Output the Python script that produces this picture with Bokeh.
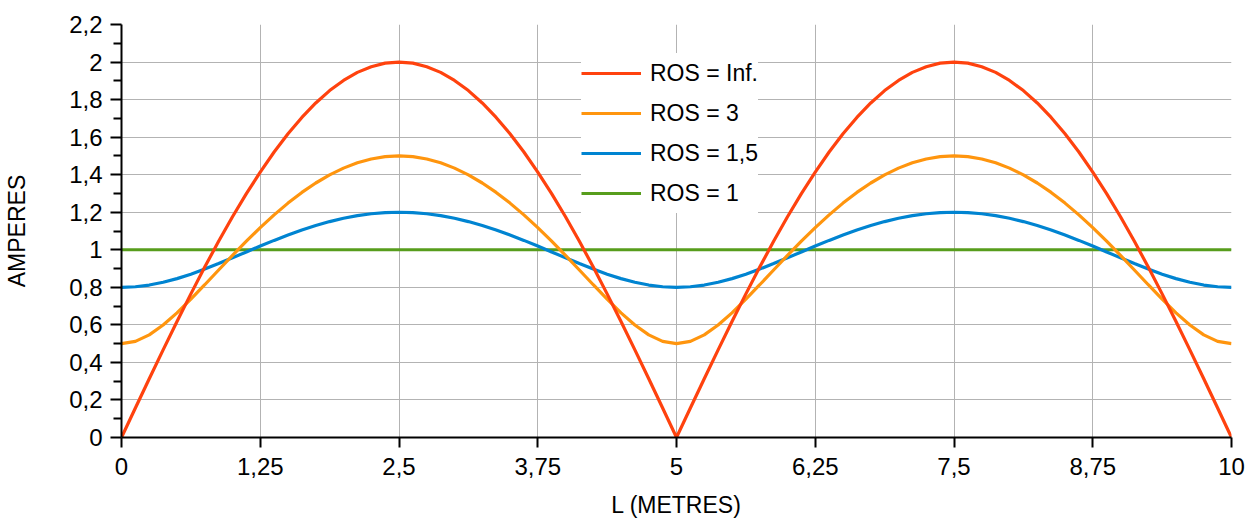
from bokeh.plotting import figure
from bokeh.models import FixedTicker, Legend, LegendItem
from bokeh.embed import file_html
from bokeh.resources import INLINE

# ---- data ----
L_METRES = [round(i * 0.125, 3) for i in range(81)]

ros_inf = [0, 0.157, 0.313, 0.467, 0.618, 0.765, 0.908, 1.045, 1.176, 1.299, 1.414,
           1.521, 1.618, 1.705, 1.782, 1.848, 1.902, 1.945, 1.975, 1.994, 2.0,
           1.994, 1.975, 1.945, 1.902, 1.848, 1.782, 1.705, 1.618, 1.521, 1.414,
           1.299, 1.176, 1.045, 0.908, 0.765, 0.618, 0.467, 0.313, 0.157, 0,
           0.157, 0.313, 0.467, 0.618, 0.765, 0.908, 1.045, 1.176, 1.299, 1.414,
           1.521, 1.618, 1.705, 1.782, 1.848, 1.902, 1.945, 1.975, 1.994, 2.0,
           1.994, 1.975, 1.945, 1.902, 1.848, 1.782, 1.705, 1.618, 1.521, 1.414,
           1.299, 1.176, 1.045, 0.908, 0.765, 0.618, 0.467, 0.313, 0.157, 0]

ros_3 = [0.5, 0.5122, 0.5468, 0.5992, 0.6641, 0.7368, 0.8138, 0.8922, 0.97, 1.0457, 1.118,
         1.1859, 1.2486, 1.3054, 1.3557, 1.399, 1.4349, 1.4632, 1.4836, 1.4959, 1.5,
         1.4959, 1.4836, 1.4632, 1.4349, 1.399, 1.3557, 1.3054, 1.2486, 1.1859, 1.118,
         1.0457, 0.97, 0.8922, 0.8138, 0.7368, 0.6641, 0.5992, 0.5468, 0.5122, 0.5,
         0.5122, 0.5468, 0.5992, 0.6641, 0.7368, 0.8138, 0.8922, 0.97, 1.0457, 1.118,
         1.1859, 1.2486, 1.3054, 1.3557, 1.399, 1.4349, 1.4632, 1.4836, 1.4959, 1.5,
         1.4959, 1.4836, 1.4632, 1.4349, 1.399, 1.3557, 1.3054, 1.2486, 1.1859, 1.118,
         1.0457, 0.97, 0.8922, 0.8138, 0.7368, 0.6641, 0.5992, 0.5468, 0.5122, 0.5]

ros_15 = [0.8, 0.8031, 0.8121, 0.8268, 0.8464, 0.8701, 0.8972, 0.9265, 0.9573, 0.9886, 1.0198,
          1.05, 1.0787, 1.1053, 1.1292, 1.1502, 1.1677, 1.1817, 1.1918, 1.198, 1.2,
          1.198, 1.1918, 1.1817, 1.1677, 1.1502, 1.1292, 1.1053, 1.0787, 1.05, 1.0198,
          0.9886, 0.9573, 0.9265, 0.8972, 0.8701, 0.8464, 0.8268, 0.8121, 0.8031, 0.8,
          0.8031, 0.8121, 0.8268, 0.8464, 0.8701, 0.8972, 0.9265, 0.9573, 0.9886, 1.0198,
          1.05, 1.0787, 1.1053, 1.1292, 1.1502, 1.1677, 1.1817, 1.1918, 1.198, 1.2,
          1.198, 1.1918, 1.1817, 1.1677, 1.1502, 1.1292, 1.1053, 1.0787, 1.05, 1.0198,
          0.9886, 0.9573, 0.9265, 0.8972, 0.8701, 0.8464, 0.8268, 0.8121, 0.8031, 0.8]

ros_1_x = [0, 10]
ros_1 = [1, 1]

x_ticks = [0, 1.25, 2.5, 3.75, 5, 6.25, 7.5, 8.75, 10]
x_tick_labels = ["0", "1,25", "2,5", "3,75", "5", "6,25", "7,5", "8,75", "10"]
y_ticks = [0, 0.2, 0.4, 0.6, 0.8, 1.0, 1.2, 1.4, 1.6, 1.8, 2.0, 2.2]
y_tick_labels = ["0", "0,2", "0,4", "0,6", "0,8", "1", "1,2", "1,4", "1,6", "1,8", "2", "2,2"]
y_minor = [0.1, 0.3, 0.5, 0.7, 0.9, 1.1, 1.3, 1.5, 1.7, 1.9, 2.1]

series_names = ["ROS = Inf.", "ROS = 3", "ROS = 1,5", "ROS = 1"]
colors = ["#ff420e", "#ff950e", "#0084d1", "#579d1c"]

FONT = "Liberation Sans"

p = figure(width=1253, height=520, output_backend="svg", toolbar_location=None,
           x_range=(0, 10), y_range=(0, 2.2),
           x_axis_label="L (METRES)", y_axis_label="AMPERES",
           min_border_left=121, min_border_right=22, min_border_top=24, min_border_bottom=82)
p.outline_line_color = None
p.background_fill_color = "white"

# grids
p.xgrid.ticker = FixedTicker(ticks=x_ticks)
p.ygrid.ticker = FixedTicker(ticks=y_ticks)
for g in (p.xgrid[0], p.ygrid[0]):
    g.grid_line_color = "#b3b3b3"
    g.grid_line_width = 1

# axes
xa = p.xaxis[0]
xa.ticker = FixedTicker(ticks=x_ticks)
xa.major_label_overrides = {t: l for t, l in zip(x_ticks, x_tick_labels)}
xa.major_tick_in = 0
xa.major_tick_out = 10
xa.major_label_standoff = 10
xa.axis_label_standoff = 14

ya = p.yaxis[0]
ya.ticker = FixedTicker(ticks=y_ticks, minor_ticks=y_minor)
ya.major_label_overrides = {t: l for t, l in zip(y_ticks, y_tick_labels)}
ya.major_tick_in = 0
ya.major_tick_out = 11
ya.minor_tick_in = 0
ya.minor_tick_out = 8
ya.major_label_standoff = 8
ya.axis_label_standoff = 36

for ax in (xa, ya):
    ax.axis_line_color = "black"
    ax.axis_line_width = 2
    ax.major_tick_line_color = "black"
    ax.major_tick_line_width = 2
    ax.minor_tick_line_color = "black" if ax is ya else None
    ax.minor_tick_line_width = 2
    ax.major_label_text_font = FONT
    ax.major_label_text_font_size = "24px"
    ax.major_label_text_color = "black"
    ax.axis_label_text_font = FONT
    ax.axis_label_text_font_size = "23px"
    ax.axis_label_text_font_style = "normal"
    ax.axis_label_text_color = "black"

# lines (bottom to top: green, blue, orange, red)
r1 = p.line(ros_1_x, ros_1, line_color=colors[3], line_width=3.2)
r15 = p.line(L_METRES, ros_15, line_color=colors[2], line_width=3.2)
r3 = p.line(L_METRES, ros_3, line_color=colors[1], line_width=3.2)
rinf = p.line(L_METRES, ros_inf, line_color=colors[0], line_width=3.2)

legend = Legend(items=[LegendItem(label=series_names[0], renderers=[rinf]),
                       LegendItem(label=series_names[1], renderers=[r3]),
                       LegendItem(label=series_names[2], renderers=[r15]),
                       LegendItem(label=series_names[3], renderers=[r1])],
                location=(460, 224), margin=0, padding=6, spacing=0,
                glyph_width=60, glyph_height=40, label_height=40, label_standoff=9,
                label_text_font=FONT, label_text_font_size="23px",
                label_text_color="black", label_text_baseline="middle",
                border_line_color=None, background_fill_color="white",
                background_fill_alpha=1.0)
p.add_layout(legend, "center")

open("out.html", "w").write(file_html(p, INLINE))
